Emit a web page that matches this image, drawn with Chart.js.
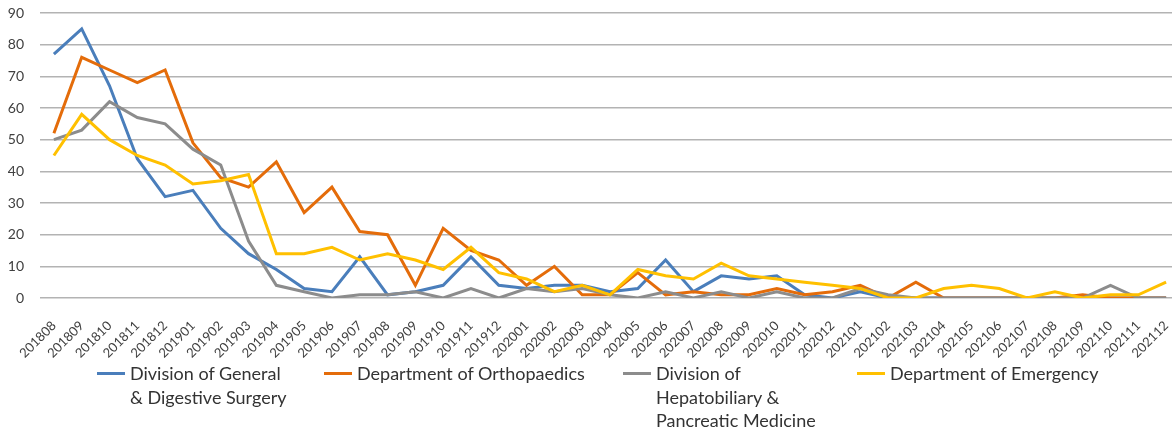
<!DOCTYPE html>
<html>
<head>
<meta charset="utf-8">
<script src="https://cdn.jsdelivr.net/npm/chart.js@4.4.0/dist/chart.umd.min.js"></script>
<style>
    html, body { margin: 0; padding: 0; background: #fff; overflow: hidden; }
    #wrap { position: relative; width: 1172px; height: 431px; overflow: hidden; }
    #chart { position: absolute; left: 0; top: 0; }
    .item { position: absolute; font-family: Lato, sans-serif; font-size: 18px; line-height: 23.5px; color: #333; white-space: pre-line; }
    .item .sw { position: absolute; left: -33px; top: 10px; width: 28px; height: 3px; }
</style>
</head>
<body>
<div id="wrap">
    <canvas id="chart" width="1180" height="370"></canvas>
    <div id="legend"></div>
</div>
<script>
    // months on the category axis
    var months = [
        '201808', '201809', '201810', '201811', '201812',
        '201901', '201902', '201903', '201904', '201905', '201906', '201907', '201908', '201909', '201910', '201911', '201912',
        '202001', '202002', '202003', '202004', '202005', '202006', '202007', '202008', '202009', '202010', '202011', '202012',
        '202101', '202102', '202103', '202104', '202105', '202106', '202107', '202108', '202109', '202110', '202111', '202112'
    ];

    var seriesNames = [
        'Division of General\n& Digestive Surgery',
        'Department of Orthopaedics',
        'Division of\nHepatobiliary &\nPancreatic Medicine',
        'Department of Emergency'
    ];

    var generalSurgery = [77, 85, 67, 44, 32, 34, 22, 14, 9, 3, 2, 13, 1, 2, 4, 13, 4,
        3, 4, 4, 2, 3, 12, 2, 7, 6, 7, 1, 0,
        2, 0, 0, 0, 0, 0, 0, 0, 0, 0, 0, 0];
    var orthopaedics = [52, 76, 72, 68, 72, 49, 38, 35, 43, 27, 35, 21, 20, 4, 22, 15, 12,
        4, 10, 1, 1, 8, 1, 2, 1, 1, 3, 1, 2,
        4, 0, 5, 0, 0, 0, 0, 0, 1, 0, 0, 0];
    var hepatobiliary = [50, 53, 62, 57, 55, 47, 42, 18, 4, 2, 0, 1, 1, 2, 0, 3, 0,
        3, 2, 3, 1, 0, 2, 0, 2, 0, 2, 0, 0,
        3, 1, 0, 0, 0, 0, 0, 0, 0, 4, 0, 0];
    var emergency = [45, 58, 50, 45, 42, 36, 37, 39, 14, 14, 16, 12, 14, 12, 9, 16, 8,
        6, 2, 4, 1, 9, 7, 6, 11, 7, 6, 5, 4,
        3, 0, 0, 3, 4, 3, 0, 2, 0, 1, 1, 5];

    var yTicks = [0, 10, 20, 30, 40, 50, 60, 70, 80, 90];

    var colors = ['#4a7ebb', '#e46c0a', '#8c8c8c', '#ffc000'];
    var seriesValues = [generalSurgery, orthopaedics, hepatobiliary, emergency];

    var datasets = seriesValues.map(function (vals, i) {
        return {
            label: seriesNames[i].replace(/\n/g, ' '),
            data: vals,
            borderColor: colors[i],
            backgroundColor: colors[i],
            borderWidth: 3,
            pointRadius: 0,
            tension: 0,
            fill: false,
            order: seriesValues.length - i  // later series drawn on top, like the source
        };
    });

    var gridColor = '#b3b3b3';
    var tickColor = '#404040';

    var chart = new Chart(document.getElementById('chart'), {
        type: 'line',
        data: { labels: months, datasets: datasets },
        options: {
            responsive: false,
            animation: false,
            layout: { padding: { left: 0, right: 0, top: 13, bottom: 0 } },
            plugins: { legend: { display: false }, tooltip: { enabled: false } },
            scales: {
                x: {
                    offset: true,
                    grid: { display: false },
                    border: { display: false },
                    ticks: {
                        autoSkip: false,
                        minRotation: 45,
                        maxRotation: 45,
                        padding: 12,
                        color: tickColor,
                        font: { family: 'Lato', size: 13 }
                    },
                    afterFit: function (s) {
                        s.height = 72;
                        s.paddingLeft = 0;
                        s.paddingRight = 0;
                    }
                },
                y: {
                    min: 0,
                    max: 90,
                    afterBuildTicks: function (s) {
                        s.ticks = yTicks.map(function (v) { return { value: v }; });
                    },
                    grid: { color: gridColor, lineWidth: 1.5, drawTicks: false },
                    border: { display: false },
                    ticks: {
                        padding: 16,
                        color: tickColor,
                        font: { family: 'Lato', size: 14 }
                    },
                    afterFit: function (s) {
                        s.width = 40;
                        s.paddingTop = 0;
                        s.paddingBottom = 0;
                    }
                }
            }
        }
    });

    // legend below the plot
    var legendX = [130, 357, 656, 890];
    var legend = document.getElementById('legend');
    chart.data.datasets.forEach(function (ds, i) {
        var el = document.createElement('div');
        el.className = 'item';
        el.style.left = legendX[i] + 'px';
        el.style.top = '362px';
        var sw = document.createElement('span');
        sw.className = 'sw';
        sw.style.background = ds.borderColor;
        el.appendChild(sw);
        el.appendChild(document.createTextNode(seriesNames[i]));
        legend.appendChild(el);
    });
</script>
</body>
</html>
